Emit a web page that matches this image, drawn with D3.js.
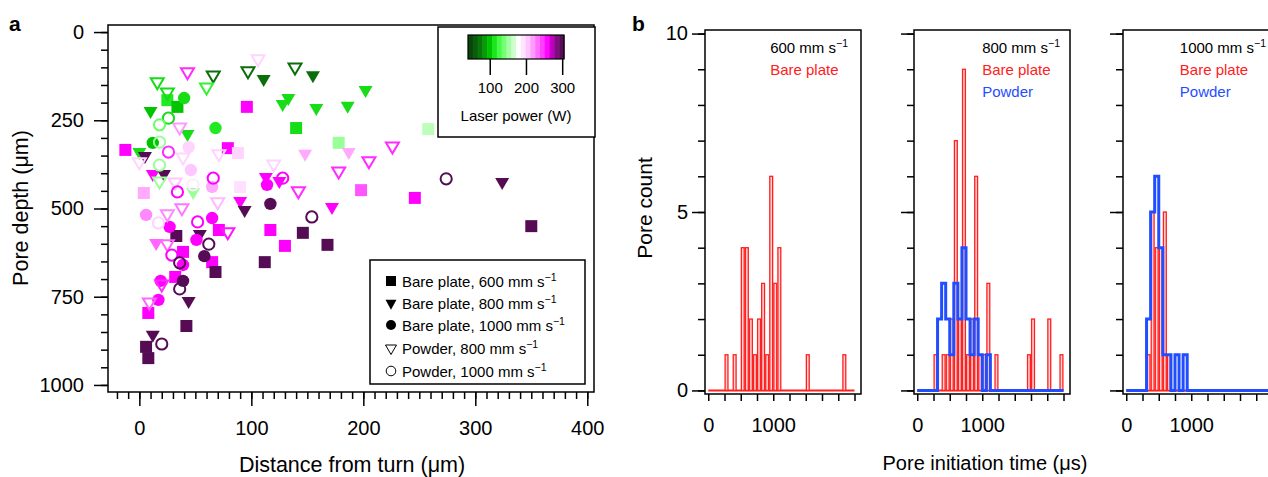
<!DOCTYPE html>
<html>
<head>
<meta charset="utf-8">
<script src="https://cdn.jsdelivr.net/npm/d3@7"></script>
<style>
body { margin: 0; background: #fff; }
svg { display: block; }
text { font-family: "Liberation Sans", Arial, Helvetica, sans-serif; fill: #000; }
</style>
</head>
<body>
<svg id="chart" width="1268" height="477"></svg>
<script>
// ---- panel a data: [distance from turn (um), pore depth (um), laser power (W)]
var barePlate600 = [
  [25,193,115],[34,212,100],[96,212,260],[-12.5,334,260],[79,329,260],[88,343,200],[4,456,215],
  [90,439,195],[71,561,260],[117,561,260],[130,606,260],[33,578,300],[39,623,260],[65,652,260],
  [68,680,300],[112,652,300],[32,694,260],[8,796,260],[42,833,300],[6,892,300],[8,924,300],
  [140,272,110],[258,275,160],[178,314,150],[198,448,240],[246,470,260],[146,569,300],
  [168,603,300],[350,550,300]
];
var barePlate800 = [
  [111,136,70],[155,125,70],[202,167,110],[133,190,110],[128,207,110],[158,218,110],[186,212,110],
  [10,227,100],[43,292,110],[0,343,110],[5,354,300],[12,405,260],[22,405,300],[113,414,260],
  [125,425,260],[90,482,260],[94,507,300],[148,348,215],[187,343,215],[324,428,300],[172,499,260],
  [54,575,300],[15,601,235],[44,765,300],[12,861,300],[48,456,150]
];
var barePlate1000 = [
  [40,187,110],[68,272,115],[12,314,100],[44,326,200],[46,391,205],[65,439,215],[114,433,260],
  [117,487,300],[6,518,225],[65,527,260],[27,552,260],[51,589,260],[58,635,300],[39,660,260],
  [19,705,260],[39,705,300],[17,759,260]
];
var powder800 = [
  [106,79,200],[16,144,110],[43,116,250],[66,125,70],[97,113,70],[139,102,70],[60,159,120],
  [25,173,110],[36,272,220],[0,371,200],[39,357,200],[71,348,200],[120,377,200],[18,425,150],
  [32,428,205],[70,484,210],[25,518,225],[38,501,230],[79,569,255],[25,603,235],[20,717,250],
  [9,768,235],[226,326,250],[205,368,250],[178,397,250],[142,453,250]
];
var powder1000 = [
  [26,244,110],[18,263,135],[18,312,150],[26,340,250],[18,377,150],[66,414,260],[48,433,190],
  [34,453,260],[128,414,260],[52,538,260],[17,541,200],[29,632,260],[36,654,300],[62,601,300],
  [36,728,300],[20,884,300],[274,416,300],[154,524,300]
];
var xTicksA = [0, 100, 200, 300, 400];
var yTicksA = [0, 250, 500, 750, 1000];
var legendLabels = ['Bare plate, 600 mm s', 'Bare plate, 800 mm s', 'Bare plate, 1000 mm s', 'Powder, 800 mm s', 'Powder, 1000 mm s'];
var powerTicks = [100, 200, 300];
var powerStops = [40, 70, 100, 115, 130, 150, 165, 180, 195, 210, 225, 240, 260, 275, 290, 305];
var powerColors = ['#0a3a0a','#0b6e0b','#00c400','#22ea22','#55ff55','#99ff99','#ccffcc','#ffffff',
                   '#ffe0ff','#ffbbff','#ff88ff','#ff55ff','#ff00ff','#b000b0','#6a106a','#4a0a4a'];

// ---- panel b data: pore counts per 62.5 us bin, starting at 0
var binWidth = 62.5;
var hist600Bare  = [0,0,0,0,1,0,1,0,4,4,2,1,2,3,1,6,3,4,0,0,0,0,0,0,1,0,0,0,0,0,0,0,0,1,0,0];
var hist800Bare  = [0,0,0,0,1,0,1,1,2,7,2,9,1,2,6,1,1,3,0,1,0,0,0,0,0,0,0,1,2,0,0,0,2,0,0,1];
var hist800Powder= [0,0,0,0,0,2,3,2,1,3,2,4,2,1,2,1,0,1,0,0,0,0,0,0,0,0,0,0,0,0,0,0,0,0,0,0];
var hist1000Bare = [0,0,0,0,0,1,5,4,4,5,1,0,0,0,0,0,0,0,0,0,0,0,0,0,0,0,0,0,0,0,0,0,0,0,0,0];
var hist1000Powder=[0,0,0,0,0,2,5,6,4,1,1,0,1,0,1,0,0,0,0,0,0,0,0,0,0,0,0,0,0,0,0,0,0,0,0,0];
var speedLabels = ['600 mm s', '800 mm s', '1000 mm s'];
var xTicksB = [0, 1000];

var svg = d3.select('#chart');
var color = d3.scaleLinear().domain(powerStops).range(powerColors).clamp(true);
var fmt = d3.format('d');

// ================= panel a =================
var xA = d3.scaleLinear().domain([-28, 406]).range([108, 594]);
var yA = d3.scaleLinear().domain([-20, 1020]).range([25, 392]);

var ga = svg.append('g');

function styleAxis(sel, fs) {
  sel.select('.domain').remove();
  sel.selectAll('line').attr('stroke', '#000').attr('stroke-width', 1.5);
  sel.selectAll('text').style('font-size', fs + 'px').attr('fill', '#000');
}

ga.append('g').attr('transform', 'translate(108,0)')
  .call(d3.axisLeft(yA).tickValues(d3.range(0, 1001, 50)).tickSize(7).tickFormat(''))
  .call(styleAxis, 20);
ga.append('g').attr('transform', 'translate(108,0)')
  .call(d3.axisLeft(yA).tickValues(yTicksA).tickSize(14).tickPadding(10).tickFormat(fmt))
  .call(styleAxis, 20);
ga.append('g').attr('transform', 'translate(0,392)')
  .call(d3.axisBottom(xA).tickValues(d3.range(-20, 401, 10)).tickSize(7).tickFormat(''))
  .call(styleAxis, 20);
ga.append('g').attr('transform', 'translate(0,392)')
  .call(d3.axisBottom(xA).tickValues(xTicksA).tickSize(14).tickPadding(15).tickFormat(fmt))
  .call(styleAxis, 20);

// markers
function squarePath(s) { return 'M' + (-s/2) + ',' + (-s/2) + 'h' + s + 'v' + s + 'h' + (-s) + 'Z'; }
function triPath(w, h) { return 'M' + (-w/2) + ',' + (-h*0.42) + 'L' + (w/2) + ',' + (-h*0.42) + 'L0,' + (h*0.58) + 'Z'; }

var plot = ga.append('g');
plot.selectAll('.sq').data(barePlate600).enter().append('path')
  .attr('d', squarePath(12))
  .attr('transform', function (d) { return 'translate(' + xA(d[0]) + ',' + yA(d[1]) + ')'; })
  .attr('fill', function (d) { return color(d[2]); });
plot.selectAll('.tri').data(barePlate800).enter().append('path')
  .attr('d', triPath(14, 12))
  .attr('transform', function (d) { return 'translate(' + xA(d[0]) + ',' + yA(d[1]) + ')'; })
  .attr('fill', function (d) { return color(d[2]); });
plot.selectAll('.cir').data(barePlate1000).enter().append('circle')
  .attr('cx', function (d) { return xA(d[0]); })
  .attr('cy', function (d) { return yA(d[1]); })
  .attr('r', 6.2)
  .attr('fill', function (d) { return color(d[2]); });
plot.selectAll('.otri').data(powder800).enter().append('path')
  .attr('d', triPath(13, 11))
  .attr('transform', function (d) { return 'translate(' + xA(d[0]) + ',' + yA(d[1]) + ')'; })
  .attr('fill', 'none')
  .attr('stroke-width', 2)
  .attr('stroke', function (d) { return color(d[2]); });
plot.selectAll('.ocir').data(powder1000).enter().append('circle')
  .attr('cx', function (d) { return xA(d[0]); })
  .attr('cy', function (d) { return yA(d[1]); })
  .attr('r', 5.6)
  .attr('fill', 'none')
  .attr('stroke-width', 2)
  .attr('stroke', function (d) { return color(d[2]); });

// frame
ga.append('rect').attr('x', 108).attr('y', 25).attr('width', 486).attr('height', 367)
  .attr('fill', 'none').attr('stroke', '#000').attr('stroke-width', 1.5);

// colour bar legend
ga.append('rect').attr('x', 438).attr('y', 27).attr('width', 157).attr('height', 110)
  .attr('fill', '#fff').attr('stroke', '#000').attr('stroke-width', 1.5);
var cbX = d3.scaleLinear().domain([40, 305]).range([468, 564]);
var nBands = 20;
var bandVals = d3.range(nBands).map(function (i) { return 40 + (i + 0.5) * (265 / nBands); });
ga.append('g').selectAll('rect').data(bandVals).enter().append('rect')
  .attr('x', function (d) { return cbX(d - 265 / nBands / 2); })
  .attr('y', 35)
  .attr('width', 96 / nBands + 0.5)
  .attr('height', 24)
  .attr('fill', function (d) { return color(d); });
ga.append('rect').attr('x', 468).attr('y', 35).attr('width', 96).attr('height', 24)
  .attr('fill', 'none').attr('stroke', '#000').attr('stroke-width', 1.2);
ga.append('g').attr('transform', 'translate(0,59)')
  .call(d3.axisBottom(cbX).tickValues(powerTicks).tickSize(16).tickPadding(7))
  .call(styleAxis, 15);
ga.append('text').attr('x', 516).attr('y', 121).attr('text-anchor', 'middle')
  .style('font-size', '15px').text('Laser power (W)');

// symbol legend
ga.append('rect').attr('x', 370).attr('y', 260).attr('width', 215).attr('height', 124)
  .attr('fill', '#fff').attr('stroke', '#000').attr('stroke-width', 1.5);
var legY = [281, 303, 325, 348, 371];
var lg = ga.append('g');
legendLabels.forEach(function (lab, i) {
  var cy = legY[i];
  if (i == 0) lg.append('path').attr('d', squarePath(10)).attr('transform', 'translate(391,' + cy + ')').attr('fill', '#000');
  if (i == 1) lg.append('path').attr('d', triPath(11, 10)).attr('transform', 'translate(391,' + (cy + 1) + ')').attr('fill', '#000');
  if (i == 2) lg.append('circle').attr('cx', 391).attr('cy', cy).attr('r', 5).attr('fill', '#000');
  if (i == 3) lg.append('path').attr('d', triPath(11, 9.5)).attr('transform', 'translate(391,' + (cy + 1) + ')').attr('fill', 'none').attr('stroke', '#000').attr('stroke-width', 1);
  if (i == 4) lg.append('circle').attr('cx', 391).attr('cy', cy).attr('r', 4.8).attr('fill', 'none').attr('stroke', '#000').attr('stroke-width', 1);
  var t = lg.append('text').attr('x', 402).attr('y', cy + 5.5).style('font-size', '15px').text(lab);
  t.append('tspan').attr('dy', -6).style('font-size', '10.5px').text('\u22121');
});

// axis titles
ga.append('text').attr('x', 352).attr('y', 472).attr('text-anchor', 'middle')
  .style('font-size', '21.5px').text('Distance from turn (\u03bcm)');
ga.append('text').attr('transform', 'translate(28,208)rotate(-90)').attr('text-anchor', 'middle')
  .style('font-size', '21.5px').text('Pore depth (\u03bcm)');
ga.append('text').attr('x', 9).attr('y', 31).style('font-size', '21px').style('font-weight', 'bold').text('a');

// ================= panel b =================
var gb = svg.append('g');
var yB = d3.scaleLinear().domain([-0.1, 10.1]).range([394, 30]);
var panels = [
  { bare: hist600Bare, powder: null, pad: 13 },
  { bare: hist800Bare, powder: hist800Powder, pad: 10 },
  { bare: hist1000Bare, powder: hist1000Powder, pad: 12 }
];
var red = '#ff2020', blue = '#1f4dff';

panels.forEach(function (p, k) {
  var left = 705 + k * 209;
  var xB = d3.scaleLinear().domain([-50, 2350]).range([left, left + 156]);
  var g = gb.append('g');

  // red histogram bars
  var bars = [];
  p.bare.forEach(function (c, i) { if (c > 0) bars.push([i * binWidth, c]); });
  var nb = p.bare.length;
  g.append('line').attr('x1', xB(0)).attr('x2', xB(nb * binWidth))
    .attr('y1', yB(0)).attr('y2', yB(0)).attr('stroke', red).attr('stroke-width', 2);
  g.selectAll('.bar').data(bars).enter().append('rect')
    .attr('x', function (d) { return xB(d[0]) + 0.6; })
    .attr('y', function (d) { return yB(d[1]); })
    .attr('width', function (d) { return xB(d[0] + binWidth) - xB(d[0]) - 1.2; })
    .attr('height', function (d) { return yB(0) - yB(d[1]); })
    .attr('fill', '#ffd2d2').attr('stroke', red).attr('stroke-width', 1.3);

  // blue step outline
  if (p.powder) {
    var pts = p.powder.map(function (c, i) { return [i * binWidth, c]; });
    pts.push([p.powder.length * binWidth, 0]);
    var line = d3.line().x(function (d) { return xB(d[0]); }).y(function (d) { return yB(d[1]); })
      .curve(d3.curveStepAfter);
    g.append('path').attr('d', line(pts)).attr('fill', 'none')
      .attr('stroke', blue).attr('stroke-width', 3).attr('stroke-linejoin', 'miter');
  }

  // axes
  g.append('g').attr('transform', 'translate(' + left + ',0)')
    .call(d3.axisLeft(yB).tickValues(d3.range(0, 11, 1)).tickSize(7).tickFormat(''))
    .call(styleAxis, 20);
  var yMaj = d3.axisLeft(yB).tickValues([0, 5, 10]).tickSize(13).tickPadding(4);
  if (k > 0) yMaj.tickFormat('');
  g.append('g').attr('transform', 'translate(' + left + ',0)').call(yMaj).call(styleAxis, 20);
  g.append('g').attr('transform', 'translate(0,394)')
    .call(d3.axisBottom(xB).tickValues(d3.range(0, 2251, 250)).tickSize(7)
      .tickFormat(function (d) { return xTicksB.indexOf(d) >= 0 ? fmt(d) : ''; }).tickPadding(17))
    .call(styleAxis, 20);

  g.append('rect').attr('x', left).attr('y', 30).attr('width', 156).attr('height', 364)
    .attr('fill', 'none').attr('stroke', '#000').attr('stroke-width', 1.5);

  // annotations: speed label right-aligned, sample labels start under it
  var t = g.append('text').attr('y', 53).style('font-size', '15px').text(speedLabels[k]);
  t.append('tspan').attr('dy', -6).style('font-size', '10.5px').text('\u22121');
  var w = t.node().getComputedTextLength();
  var tx = Math.min(left + 156 - p.pad - w, 1266 - w);
  t.attr('x', tx);
  g.append('text').attr('x', tx).attr('y', 75).style('font-size', '15px')
    .style('fill', red).text('Bare plate');
  if (p.powder) {
    g.append('text').attr('x', tx).attr('y', 97).style('font-size', '15px')
      .style('fill', blue).text('Powder');
  }
});

gb.append('text').attr('x', 985).attr('y', 470).attr('text-anchor', 'middle')
  .style('font-size', '20px').text('Pore initiation time (\u03bcs)');
gb.append('text').attr('transform', 'translate(652,208)rotate(-90)').attr('text-anchor', 'middle')
  .style('font-size', '21px').text('Pore count');
gb.append('text').attr('x', 632).attr('y', 31).style('font-size', '21px').style('font-weight', 'bold').text('b');
</script>
</body>
</html>
